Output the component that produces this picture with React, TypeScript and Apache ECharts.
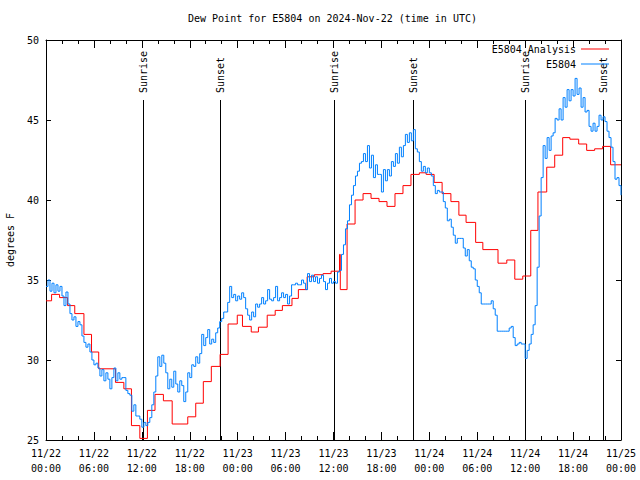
import React, { useEffect, useRef } from 'react';
import * as echarts from 'echarts';

const FONT = '"DejaVu Sans Mono", "Liberation Mono", monospace';
const TITLE = 'Dew Point for E5804 on 2024-Nov-22 (time in UTC)';
const Y_NAME = 'degrees F';
const MONTH = 11;
const START_DAY = 22;
const X_MIN = 0;
const X_MAX = 72;
const X_STEP = 6;
const Y_MIN = 25;
const Y_MAX = 50;
const Y_STEP = 5;
const ANALYSIS_NAME = 'E5804 Analysis';
const OBS_NAME = 'E5804';

// Sunrise / sunset times (hours since 11/22 00:00 UTC)
const sunHours = [12.1, 21.83, 36.03, 45.92, 60.02, 69.79];
const sunLabels = ['Sunrise', 'Sunset', 'Sunrise', 'Sunset', 'Sunrise', 'Sunset'];
const SUN_LINE_TOP = 46.25;

// Analysis (step values: [hour, degF])
const analysisDay1: number[][] = [
  [0, 33.7], [0.7, 34.1], [1.7, 33.9], [2.7, 33.4], [3.6, 32.9], [4.75, 31.6], [5.7, 30.5],
  [6.6, 29.45], [8.7, 28.6], [9.75, 28.2], [10.7, 25.9], [11.75, 25.1], [12.7, 26.85],
  [13.65, 27.85], [14.7, 27.45], [15.8, 26.0], [17.75, 26.45], [18.75, 27.3], [19.7, 28.65],
  [20.7, 29.6], [21.8, 30.35], [22.8, 32.25], [23.95, 32.8],
];
const analysisDay2: number[][] = [
  [24.6, 32.1], [25.7, 31.75], [26.6, 32.05], [27.7, 32.8], [28.7, 33.1], [29.6, 33.4],
  [30.8, 33.85], [31.6, 34.4], [32.7, 35.2], [33.6, 35.33], [34.7, 35.4], [35.7, 35.55],
  [36.75, 36.6], [36.85, 34.4], [37.7, 38.5], [38.7, 40.0], [39.7, 40.4], [40.7, 40.1],
  [41.7, 39.9], [42.7, 39.6], [43.7, 40.4], [44.7, 40.9], [45.7, 41.6], [46.75, 41.7],
  [47.6, 41.6],
];
const analysisDay3: number[][] = [
  [48.6, 41.1], [49.6, 40.4], [50.7, 39.9], [51.7, 39.05], [52.6, 38.6], [53.8, 37.35],
  [54.7, 36.9], [56.6, 36.05], [57.7, 36.25], [58.7, 35.05], [59.7, 35.25], [60.7, 38.1],
  [61.6, 40.5], [62.7, 42.05], [63.7, 42.8], [64.7, 43.9], [65.6, 43.8], [66.7, 43.5],
  [67.7, 43.1], [68.7, 43.2], [69.7, 43.35], [70.7, 42.2], [72, 42.2],
];

// Observed station values ([hour, degF])
const obsDay1: number[][] = [
  [0, 34.6], [0.25, 35.0], [0.5, 34.3], [0.75, 34.8], [1, 34.2], [1.25, 34.7], [1.5, 34.3], [1.75, 34.6],
  [2, 34.0], [2.25, 33.4], [2.5, 34.25], [2.75, 33.5], [3, 32.9], [3.25, 32.5], [3.5, 32.7], [3.75, 32.1],
  [4, 32.4], [4.25, 32.2], [4.5, 31.5], [4.75, 31.1], [5, 30.8], [5.25, 31.0], [5.5, 30.5], [5.75, 30.0],
  [6, 29.7], [6.25, 29.8], [6.5, 29.5], [6.75, 29.0], [7, 29.4], [7.25, 28.7], [7.5, 29.2], [7.75, 28.8],
  [8, 28.2], [8.25, 28.9], [8.5, 29.5], [8.75, 28.7], [9, 29.2], [9.25, 28.8], [9.5, 28.9], [9.75, 28.9],
  [10, 28.1], [10.25, 27.9], [10.5, 27.8], [10.75, 26.8], [11, 27.2], [11.25, 26.5], [11.5, 26.5], [11.75, 26.3],
  [12, 25.8], [12.25, 26.1], [12.5, 25.9], [12.75, 26.1], [13, 26.4], [13.25, 27.2], [13.5, 28.0], [13.75, 29.0],
  [14, 30.2], [14.25, 29.6], [14.5, 30.3], [14.75, 29.8], [15, 29.2], [15.25, 28.2], [15.5, 28.8], [15.75, 28.3],
  [16, 29.3], [16.25, 28.5], [16.5, 28.0], [16.75, 28.7], [17, 28.4], [17.25, 27.4], [17.5, 28.0], [17.75, 29.2],
  [18, 28.9], [18.25, 29.7], [18.5, 29.6], [18.75, 30.2], [19, 29.8], [19.25, 30.4], [19.5, 31.6], [19.75, 30.9],
  [20, 31.4], [20.25, 31.9], [20.5, 31.0], [20.75, 31.3], [21, 31.1], [21.25, 31.7], [21.5, 32.0], [21.75, 32.4],
  [22, 32.6], [22.25, 33.0], [22.5, 33.0], [22.75, 33.6], [23, 34.6], [23.25, 33.9], [23.5, 34.1], [23.75, 33.7],
];
const obsDay2: number[][] = [
  [24, 34.0], [24.25, 33.8], [24.5, 34.2], [24.75, 33.9], [25, 33.2], [25.25, 32.8], [25.5, 32.5], [25.75, 33.0],
  [26, 32.7], [26.25, 33.5], [26.5, 33.3], [26.75, 33.5], [27, 33.9], [27.25, 33.5], [27.5, 33.7], [27.75, 34.4],
  [28, 33.8], [28.25, 33.7], [28.5, 33.9], [28.75, 34.6], [29, 33.7], [29.25, 33.9], [29.5, 34.2], [29.75, 33.9],
  [30, 34.1], [30.25, 33.5], [30.5, 34.0], [30.75, 34.7], [31, 34.7], [31.25, 34.8], [31.5, 34.7], [31.75, 34.7],
  [32, 35.0], [32.25, 34.8], [32.5, 34.4], [32.75, 35.4], [33, 34.9], [33.25, 35.3], [33.5, 34.9], [33.75, 35.2],
  [34, 34.8], [34.25, 35.1], [34.5, 35.3], [34.75, 34.9], [35, 34.4], [35.25, 34.8], [35.5, 35.1], [35.75, 34.8],
  [36, 34.9], [36.25, 34.8], [36.5, 35.5], [36.75, 35.6], [37, 36.6], [37.25, 37.2], [37.5, 38.2], [37.75, 38.7],
  [38, 39.7], [38.25, 40.3], [38.5, 40.9], [38.75, 41.5], [39, 41.8], [39.25, 42.3], [39.5, 42.4], [39.75, 42.9],
  [40, 42.4], [40.25, 43.4], [40.5, 42.0], [40.75, 42.8], [41, 41.4], [41.25, 42.2], [41.5, 41.6], [41.75, 41.6],
  [42, 40.5], [42.25, 41.9], [42.5, 41.2], [42.75, 41.9], [43, 41.5], [43.25, 42.4], [43.5, 42.1], [43.75, 42.9],
  [44, 42.3], [44.25, 43.3], [44.5, 42.7], [44.75, 43.4], [45, 44.1], [45.25, 43.6], [45.5, 44.2], [45.75, 43.7],
  [46, 44.4], [46.25, 43.2], [46.5, 43.0], [46.75, 42.4], [47, 41.8], [47.25, 42.1], [47.5, 41.7], [47.75, 42.0],
];
const obsDay3: number[][] = [
  [48, 41.7], [48.25, 41.5], [48.5, 40.9], [48.75, 40.4], [49, 40.6], [49.25, 40.5], [49.5, 40.5], [49.75, 39.9],
  [50, 39.5], [50.25, 38.7], [50.5, 38.8], [50.75, 38.3], [51, 37.8], [51.25, 37.3], [51.5, 37.6], [51.75, 37.6],
  [52, 37.6], [52.25, 37.0], [52.5, 36.5], [52.75, 36.9], [53, 36.2], [53.25, 35.8], [53.5, 35.7], [53.75, 35.0],
  [54, 34.6], [54.25, 34.2], [54.5, 33.5], [54.75, 33.5], [55, 33.5], [55.25, 33.5], [55.5, 33.5], [55.75, 33.7],
  [56, 33.2], [56.25, 32.8], [56.5, 31.8], [56.75, 31.8], [57, 31.8], [57.25, 31.8], [57.5, 31.8], [57.75, 31.8],
  [58, 32.0], [58.25, 32.1], [58.5, 31.4], [58.75, 30.9], [59, 31.0], [59.25, 31.1], [59.5, 31.0], [59.75, 31.0],
  [60, 30.1], [60.25, 30.6], [60.5, 31.0], [60.75, 31.6], [61, 32.2], [61.25, 33.4], [61.5, 35.8], [61.75, 39.0],
  [62, 41.4], [62.25, 43.4], [62.5, 42.6], [62.75, 43.9], [63, 43.1], [63.25, 44.0], [63.5, 44.2], [63.75, 45.1],
  [64, 45.0], [64.25, 45.7], [64.5, 45.0], [64.75, 46.4], [65, 45.8], [65.25, 46.9], [65.5, 46.2], [65.75, 46.9],
  [66, 46.5], [66.25, 47.6], [66.5, 46.6], [66.75, 47.0], [67, 45.8], [67.25, 46.4], [67.5, 45.5], [67.75, 45.6],
  [68, 44.6], [68.25, 44.3], [68.5, 44.8], [68.75, 44.3], [69, 44.6], [69.25, 45.3], [69.5, 45.0], [69.75, 45.2],
  [70, 44.9], [70.25, 44.3], [70.5, 43.9], [70.75, 43.3], [71, 42.4], [71.25, 41.3], [71.5, 41.4], [71.75, 40.9],
  [72, 40.3],
];

const RED = '#ff0000';
const BLUE = '#0080ff';
const BLACK = '#000000';

const pad2 = (n: number) => (n < 10 ? '0' + n : '' + n);
const xLabel = (v: number) => {
  const day = START_DAY + Math.floor(v / 24);
  const hr = v % 24;
  return `${MONTH}/${day}\n${pad2(hr)}:00`;
};

const axisLineStyle = { color: BLACK, width: 1 };

export default function App() {
  const ref = useRef<HTMLDivElement>(null);

  useEffect(() => {
    if (!ref.current) return;
    const chart = echarts.init(ref.current, undefined, { renderer: 'svg' });
    const textBase = { fontFamily: FONT, fontSize: 10, color: BLACK };

    const xCommon = {
      type: 'value',
      min: X_MIN,
      max: X_MAX,
      interval: X_STEP,
      axisLine: { show: true, onZero: false, lineStyle: axisLineStyle },
      axisTick: { show: true, inside: true, length: 8, lineStyle: axisLineStyle },
      minorTick: { show: true, splitNumber: 3, length: 4, lineStyle: axisLineStyle },
      splitLine: { show: false },
      minorSplitLine: { show: false },
    };
    const yCommon = {
      type: 'value',
      min: Y_MIN,
      max: Y_MAX,
      interval: Y_STEP,
      axisLine: { show: true, onZero: false, lineStyle: axisLineStyle },
      axisTick: { show: true, inside: true, length: 5, lineStyle: axisLineStyle },
      splitLine: { show: false },
    };

    const legendCommon = {
      right: 31,
      padding: 0,
      orient: 'vertical',
      align: 'right',
      icon: 'rect',
      itemWidth: 28,
      itemHeight: 1,
      textStyle: textBase,
    };

    const option: any = {
      animation: false,
      backgroundColor: '#ffffff',
      textStyle: { fontFamily: FONT },
      title: {
        text: TITLE,
        left: 188,
        top: 13,
        padding: 0,
        textStyle: { ...textBase, fontWeight: 'normal' },
      },
      legend: [
        { ...legendCommon, data: [ANALYSIS_NAME], top: 44 },
        { ...legendCommon, data: [OBS_NAME], top: 59 },
      ],
      grid: { left: 46, right: 19, top: 40, bottom: 40, show: false, containLabel: false, outerBoundsMode: 'none' },
      xAxis: [
        {
          ...xCommon,
          position: 'bottom',
          axisLabel: {
            ...textBase,
            margin: 6,
            lineHeight: 15,
            showMinLabel: true,
            showMaxLabel: true,
            formatter: xLabel,
          },
        },
        { ...xCommon, position: 'top', axisLabel: { show: false } },
      ],
      yAxis: [
        {
          ...yCommon,
          position: 'left',
          name: Y_NAME,
          nameLocation: 'middle',
          nameGap: 31,
          nameRotate: 90,
          nameTextStyle: textBase,
          axisLabel: { ...textBase, margin: 7 },
        },
        { ...yCommon, position: 'right', axisLabel: { show: false } },
      ],
      series: [
        {
          type: 'custom',
          name: 'sun',
          xAxisIndex: 0,
          yAxisIndex: 0,
          silent: true,
          clip: false,
          z: 1,
          encode: { x: 0, y: 1 },
          data: sunHours.map((h) => [h, SUN_LINE_TOP]),
          renderItem: (params: any, api: any) => {
            const h = api.value(0);
            const bottom = api.coord([h, Y_MIN]);
            const top = api.coord([h, api.value(1)]);
            const x = Math.round(bottom[0]) + 0.5;
            return {
              type: 'group',
              children: [
                {
                  type: 'line',
                  shape: { x1: x, y1: bottom[1], x2: x, y2: top[1] },
                  style: { stroke: BLACK, lineWidth: 1 },
                },
                {
                  type: 'text',
                  x: x,
                  y: top[1] - 7,
                  rotation: Math.PI / 2,
                  style: {
                    text: sunLabels[params.dataIndex],
                    fill: BLACK,
                    font: `10px ${FONT}`,
                    align: 'left',
                    verticalAlign: 'middle',
                  },
                },
              ],
            };
          },
        },
        {
          type: 'line',
          name: ANALYSIS_NAME,
          step: 'end',
          showSymbol: false,
          symbol: 'none',
          z: 3,
          color: RED,
          lineStyle: { color: RED, width: 1 },
          data: [...analysisDay1, ...analysisDay2, ...analysisDay3],
        },
        {
          type: 'line',
          name: OBS_NAME,
          step: 'end',
          showSymbol: false,
          symbol: 'none',
          z: 4,
          color: BLUE,
          lineStyle: { color: BLUE, width: 1 },
          data: [...obsDay1, ...obsDay2, ...obsDay3],
        },
      ],
    };

    chart.setOption(option);
    return () => chart.dispose();
  }, []);

  return (
    <div
      ref={ref}
      style={{ position: 'fixed', left: 0, top: 0, width: 640, height: 480, background: '#fff' }}
    />
  );
}
